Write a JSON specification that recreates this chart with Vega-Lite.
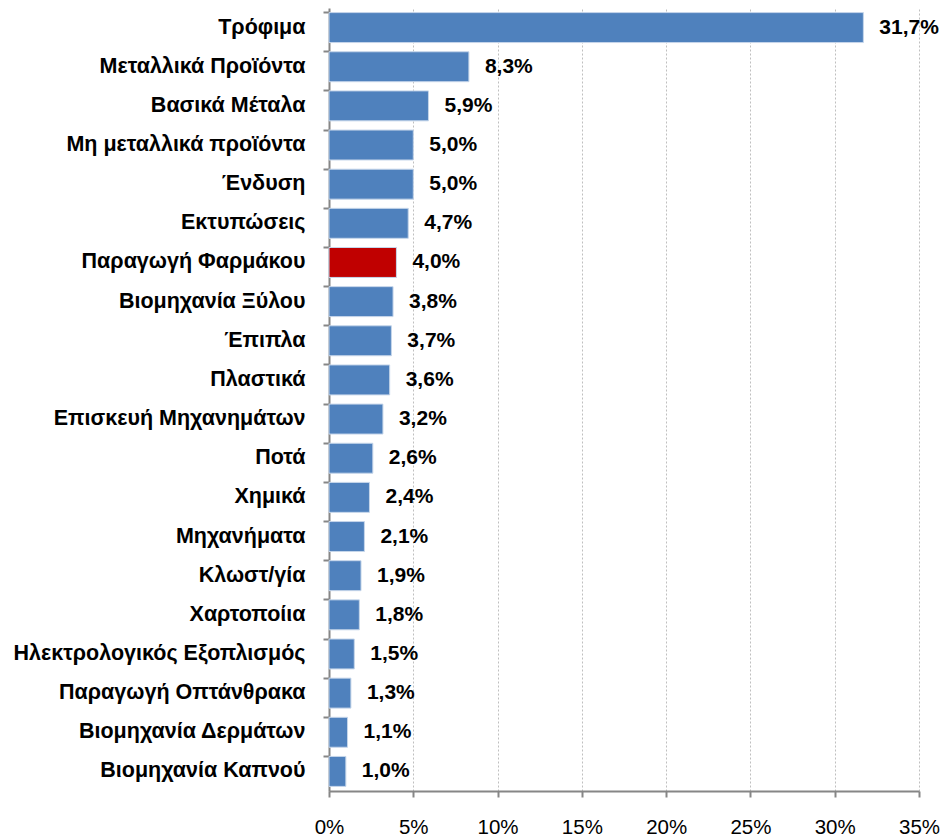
{
  "$schema": "https://vega.github.io/schema/vega-lite/v6.json",
  "autosize": "none",
  "width": 590,
  "height": 783,
  "padding": {"left": 329, "top": 8, "right": 23, "bottom": 47},
  "background": "white",
  "config": {
    "view": {"stroke": null},
    "locale": {"number": {"decimal": ",", "thousands": ".", "grouping": [3], "currency": ["", " €"]}},
    "font": "Liberation Sans"
  },
  "data": {
    "values": [
      {"sector": "Τρόφιμα", "share": 0.317},
      {"sector": "Μεταλλικά Προϊόντα", "share": 0.083},
      {"sector": "Βασικά Μέταλα", "share": 0.059},
      {"sector": "Μη μεταλλικά προϊόντα", "share": 0.050},
      {"sector": "Ένδυση", "share": 0.050},
      {"sector": "Εκτυπώσεις", "share": 0.047},
      {"sector": "Παραγωγή Φαρμάκου", "share": 0.040},
      {"sector": "Βιομηχανία Ξύλου", "share": 0.038},
      {"sector": "Έπιπλα", "share": 0.037},
      {"sector": "Πλαστικά", "share": 0.036},
      {"sector": "Επισκευή Μηχανημάτων", "share": 0.032},
      {"sector": "Ποτά", "share": 0.026},
      {"sector": "Χημικά", "share": 0.024},
      {"sector": "Μηχανήματα", "share": 0.021},
      {"sector": "Κλωστ/γία", "share": 0.019},
      {"sector": "Χαρτοποίια", "share": 0.018},
      {"sector": "Ηλεκτρολογικός Εξοπλισμός", "share": 0.015},
      {"sector": "Παραγωγή Οπτάνθρακα", "share": 0.013},
      {"sector": "Βιομηχανία Δερμάτων", "share": 0.011},
      {"sector": "Βιομηχανία Καπνού", "share": 0.010}
    ]
  },
  "encoding": {
    "y": {
      "field": "sector",
      "type": "nominal",
      "sort": null,
      "scale": {"paddingInner": 0.235, "paddingOuter": 0.1175},
      "axis": {
        "title": null,
        "bandPosition": 0,
        "domainColor": "#868686",
        "domainWidth": 2,
        "tickColor": "#868686",
        "tickWidth": 2,
        "tickSize": 6,
        "labelPadding": 18,
        "labelFont": "Liberation Sans",
        "labelFontSize": 21.5,
        "labelFontWeight": "bold",
        "labelColor": "#000000",
        "labelLimit": 400
      }
    }
  },
  "layer": [
    {
      "mark": {"type": "bar", "stroke": "#C6D6EA", "strokeWidth": 1},
      "encoding": {
        "x": {
          "field": "share",
          "type": "quantitative",
          "scale": {"domain": [0, 0.35], "nice": false},
          "axis": {
            "title": null,
            "format": ".0%",
            "values": [0, 0.05, 0.1, 0.15, 0.2, 0.25, 0.3, 0.35],
            "grid": true,
            "gridColor": "#BFBFBF",
            "gridDash": [2, 2],
            "gridWidth": 1,
            "domainColor": "#868686",
            "domainWidth": 2,
            "tickColor": "#868686",
            "tickWidth": 2,
            "tickSize": 6,
            "labelPadding": 20,
            "labelFont": "Liberation Sans",
            "labelFontSize": 20.5,
            "labelColor": "#000000",
            "labelFlush": false
          }
        },
        "color": {
          "condition": {"test": "datum.sector === 'Παραγωγή Φαρμάκου'", "value": "#C00000"},
          "value": "#4F81BD"
        }
      }
    },
    {
      "mark": {"type": "text", "align": "left", "baseline": "middle", "dx": 16, "fontSize": 21, "fontWeight": "bold", "font": "Liberation Sans", "color": "#000000"},
      "encoding": {
        "x": {"field": "share", "type": "quantitative"},
        "text": {"field": "share", "type": "quantitative", "format": ".1%"}
      }
    }
  ]
}
